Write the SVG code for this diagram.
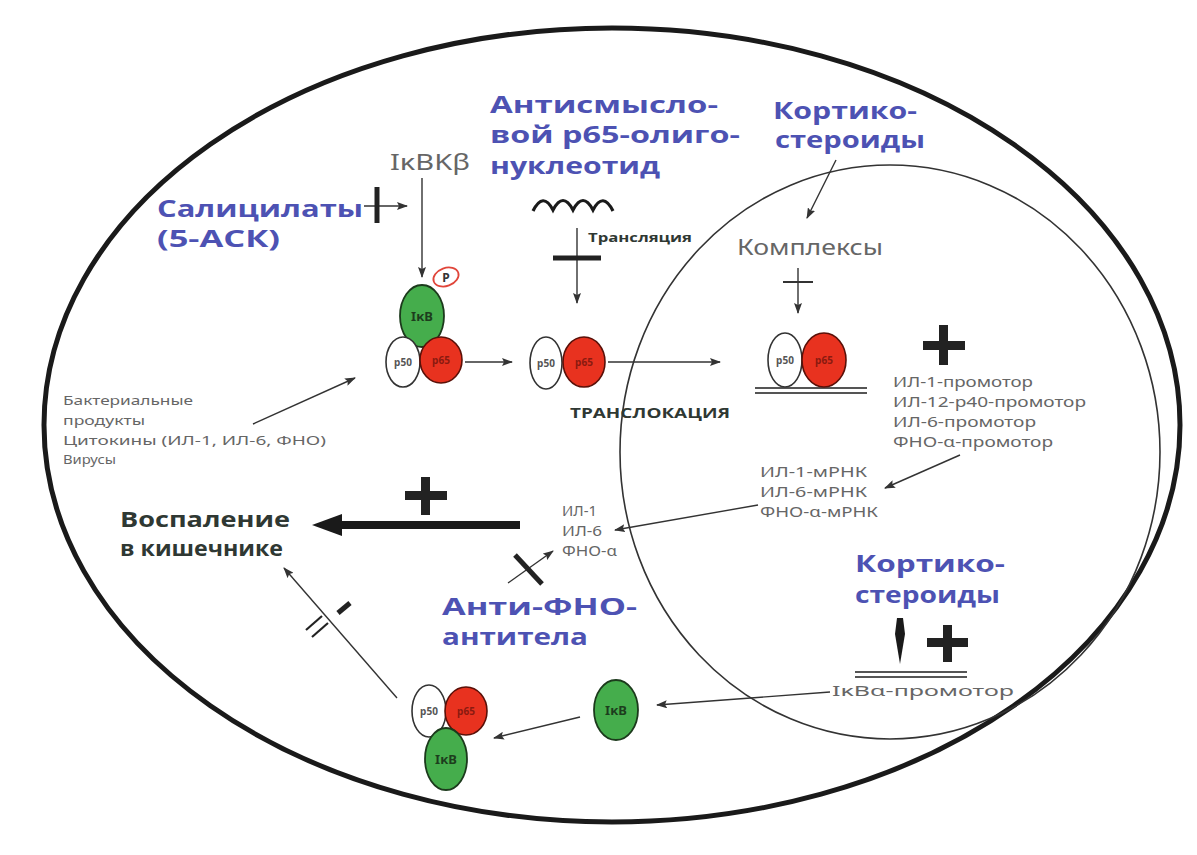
<svg xmlns="http://www.w3.org/2000/svg" width="1197" height="855" viewBox="0 0 1197 855">
  <style>
    .blue { font-family: "Open Sans", "Noto Sans", sans-serif; font-weight: bold; font-size: 23px; fill: #4d52b3; }
    .dark { font-family: "Open Sans", "Noto Sans", sans-serif; font-weight: bold; fill: #2f3833; }
    .gray { font-family: "Noto Sans", "DejaVu Sans", sans-serif; fill: #666; }
    .thin { stroke: #333; stroke-width: 1.4; fill: none; }
    .bar { stroke: #222; stroke-width: 5; stroke-linecap: butt; fill: none; }
    .plus { fill: #222; }
    .p50 { fill: #fff; stroke: #333; stroke-width: 1.6; }
    .p65 { fill: #e8321f; stroke: #5a1008; stroke-width: 1.6; }
    .ikb { fill: #45ad4c; stroke: #1c3a1c; stroke-width: 1.8; }
    .lab50 { font-family: "Noto Sans", sans-serif; font-weight: bold; font-size: 10px; fill: #555; }
    .lab65 { font-family: "Noto Sans", sans-serif; font-weight: bold; font-size: 10px; fill: #8a1a10; }
    .labIkb { font-family: "Noto Sans", sans-serif; font-weight: bold; font-size: 13px; fill: #1d3d1d; }
    .dna { stroke: #555; stroke-width: 2; }
  </style>
  <defs>
    <marker id="arr" markerUnits="userSpaceOnUse" markerWidth="11" markerHeight="8" refX="10" refY="4" orient="auto">
      <path d="M0,0 L11,4 L0,8 L2,4 Z" fill="#333"/>
    </marker>
  </defs>

  <rect width="1197" height="855" fill="#fff"/>

  <!-- cell membrane and nucleus -->
  <g id="cell">
    <ellipse cx="612" cy="425" rx="568" ry="397" fill="none" stroke="#1a1a1a" stroke-width="5"/>
  </g>
  <g id="nucleus">
    <ellipse cx="890" cy="452" rx="270" ry="287" fill="none" stroke="#333" stroke-width="1.6"/>
  </g>

  <!-- connectors -->
  <g id="connectors">
    <!-- IkBKb to IkB -->
    <line class="thin" x1="422" y1="178" x2="422" y2="277" marker-end="url(#arr)"/>
    <!-- salicylates blocking -->
    <line class="thin" x1="364" y1="206" x2="407" y2="206" marker-end="url(#arr)"/>
    <line class="bar" x1="377" y1="187" x2="377" y2="223"/>
    <!-- external stimuli -->
    <line class="thin" x1="253" y1="424" x2="355" y2="378" marker-end="url(#arr)"/>
    <!-- release of p50/p65 -->
    <line class="thin" x1="465" y1="362" x2="512" y2="362" marker-end="url(#arr)"/>
    <!-- translocation -->
    <line class="thin" x1="608" y1="362" x2="720" y2="362" marker-end="url(#arr)"/>
    <!-- antisense oligonucleotide -->
    <path d="M533,211 Q543,191 553,210 Q563,191 573,210 Q583,191 593,210 Q603,191 613,211" fill="none" stroke="#1a1a1a" stroke-width="3.2"/>
    <line class="thin" x1="577" y1="228" x2="577" y2="303" marker-end="url(#arr)"/>
    <line class="bar" x1="553" y1="258" x2="601" y2="258"/>
    <!-- corticosteroids to complexes -->
    <line class="thin" x1="836" y1="160" x2="807" y2="218" marker-end="url(#arr)"/>
    <line class="thin" x1="798" y1="268" x2="798" y2="313" marker-end="url(#arr)"/>
    <line x1="783" y1="282" x2="813" y2="282" stroke="#333" stroke-width="2"/>
    <!-- promoters to mRNA -->
    <line class="thin" x1="960" y1="455" x2="885" y2="488" marker-end="url(#arr)"/>
    <!-- mRNA to cytokines -->
    <line class="thin" x1="758" y1="505" x2="615" y2="530" marker-end="url(#arr)"/>
    <!-- cytokines to inflammation -->
    <line x1="520" y1="525" x2="335" y2="525" stroke="#1a1a1a" stroke-width="8"/>
    <polygon points="312,525 342,514 342,536" fill="#1a1a1a"/>
    <!-- anti-TNF antibodies -->
    <line class="thin" x1="508" y1="583" x2="553" y2="551" marker-end="url(#arr)"/>
    <line class="bar" x1="515" y1="555" x2="542" y2="584"/>
    <!-- corticosteroids to IkBa promoter -->
    <path d="M897,618 L903,618 L905,634 L900,664 L895,634 Z" fill="#1a1a1a"/>
    <!-- IkBa promoter to IkB -->
    <line class="thin" x1="830" y1="692" x2="657" y2="705" marker-end="url(#arr)"/>
    <!-- IkB binds p50/p65 -->
    <line class="thin" x1="580" y1="717" x2="494" y2="738" marker-end="url(#arr)"/>
    <!-- inhibited route to inflammation -->
    <line class="thin" x1="397" y1="698" x2="284" y2="568" marker-end="url(#arr)"/>
    <line x1="306" y1="630" x2="322" y2="616" stroke="#222" stroke-width="2.2"/>
    <line x1="312" y1="637" x2="328" y2="623" stroke="#222" stroke-width="2.2"/>
    <line class="bar" x1="338" y1="613" x2="350" y2="603"/>
  </g>

  <!-- plus signs -->
  <g id="plus-inflammation">
    <rect class="plus" x="405" y="491" width="42" height="9"/>
    <rect class="plus" x="421" y="477" width="9" height="38"/>
  </g>
  <g id="plus-promoters">
    <rect class="plus" x="923" y="341" width="42" height="9"/>
    <rect class="plus" x="939" y="325" width="9" height="40"/>
  </g>
  <g id="plus-ikba">
    <rect class="plus" x="927" y="638" width="41" height="9"/>
    <rect class="plus" x="943" y="625" width="9" height="37"/>
  </g>

  <!-- labels -->
  <g id="ikbkb">
    <text class="gray" x="390" y="170" font-size="22" textLength="80" lengthAdjust="spacingAndGlyphs">IκBKβ</text>
  </g>
  <g id="salicylates">
    <text class="blue" x="157" y="217" textLength="206" lengthAdjust="spacingAndGlyphs">Салицилаты</text>
    <text class="blue" x="157" y="247" textLength="123" lengthAdjust="spacingAndGlyphs">(5-АСК)</text>
  </g>
  <g id="antisense">
    <text class="blue" x="490" y="113" textLength="228" lengthAdjust="spacingAndGlyphs">Антисмысло-</text>
    <text class="blue" x="490" y="143" textLength="250" lengthAdjust="spacingAndGlyphs">вой р65-олиго-</text>
    <text class="blue" x="490" y="174" textLength="170" lengthAdjust="spacingAndGlyphs">нуклеотид</text>
    <text class="dark" x="588" y="242" font-size="13" textLength="104" lengthAdjust="spacingAndGlyphs">Трансляция</text>
  </g>
  <g id="corticosteroids-top">
    <text class="blue" x="773" y="119" textLength="144" lengthAdjust="spacingAndGlyphs">Кортико-</text>
    <text class="blue" x="775" y="148" textLength="150" lengthAdjust="spacingAndGlyphs">стероиды</text>
  </g>
  <g id="complexes">
    <text class="gray" x="737" y="255" font-size="21" textLength="146" lengthAdjust="spacingAndGlyphs" fill="#555">Комплексы</text>
  </g>
  <g id="stimuli">
    <text class="gray" x="63" y="405" font-size="13" textLength="130" lengthAdjust="spacingAndGlyphs">Бактериальные</text>
    <text class="gray" x="63" y="425" font-size="13" textLength="82" lengthAdjust="spacingAndGlyphs">продукты</text>
    <text class="gray" x="63" y="445" font-size="13" textLength="263" lengthAdjust="spacingAndGlyphs">Цитокины (ИЛ-1, ИЛ-6, ФНО)</text>
    <text class="gray" x="63" y="464" font-size="13" textLength="53" lengthAdjust="spacingAndGlyphs">Вирусы</text>
  </g>
  <g id="translocation">
    <text class="dark" x="570" y="418" font-size="14" fill="#444" textLength="160" lengthAdjust="spacingAndGlyphs">ТРАНСЛОКАЦИЯ</text>
  </g>
  <g id="promoters">
    <text class="gray" x="893" y="387" font-size="15" textLength="140" lengthAdjust="spacingAndGlyphs">ИЛ-1-промотор</text>
    <text class="gray" x="893" y="407" font-size="15" textLength="193" lengthAdjust="spacingAndGlyphs">ИЛ-12-р40-промотор</text>
    <text class="gray" x="893" y="427" font-size="15" textLength="143" lengthAdjust="spacingAndGlyphs">ИЛ-6-промотор</text>
    <text class="gray" x="893" y="447" font-size="15" textLength="160" lengthAdjust="spacingAndGlyphs">ФНО-α-промотор</text>
  </g>
  <g id="mrna">
    <text class="gray" x="760" y="477" font-size="14" textLength="107" lengthAdjust="spacingAndGlyphs">ИЛ-1-мРНК</text>
    <text class="gray" x="760" y="497" font-size="14" textLength="107" lengthAdjust="spacingAndGlyphs">ИЛ-6-мРНК</text>
    <text class="gray" x="760" y="517" font-size="14" textLength="118" lengthAdjust="spacingAndGlyphs">ФНО-α-мРНК</text>
  </g>
  <g id="cytokines">
    <text class="gray" x="562" y="516" font-size="14" textLength="35" lengthAdjust="spacingAndGlyphs">ИЛ-1</text>
    <text class="gray" x="562" y="536" font-size="14" textLength="40" lengthAdjust="spacingAndGlyphs">ИЛ-6</text>
    <text class="gray" x="562" y="556" font-size="14" textLength="55" lengthAdjust="spacingAndGlyphs">ФНО-α</text>
  </g>
  <g id="inflammation">
    <text class="dark" x="120" y="527" font-size="21" textLength="170" lengthAdjust="spacingAndGlyphs">Воспаление</text>
    <text class="dark" x="120" y="556" font-size="21" textLength="163" lengthAdjust="spacingAndGlyphs">в кишечнике</text>
  </g>
  <g id="anti-tnf">
    <text class="blue" x="442" y="615" textLength="195" lengthAdjust="spacingAndGlyphs">Анти-ФНО-</text>
    <text class="blue" x="442" y="645" textLength="146" lengthAdjust="spacingAndGlyphs">антитела</text>
  </g>
  <g id="corticosteroids-bottom">
    <text class="blue" x="855" y="572" textLength="150" lengthAdjust="spacingAndGlyphs">Кортико-</text>
    <text class="blue" x="855" y="603" textLength="145" lengthAdjust="spacingAndGlyphs">стероиды</text>
  </g>
  <g id="ikba-promoter">
    <line class="dna" x1="855" y1="672" x2="967" y2="672"/>
    <line class="dna" x1="855" y1="677" x2="967" y2="677"/>
    <text class="gray" x="832" y="696" font-size="14" textLength="182" lengthAdjust="spacingAndGlyphs">IκBα-промотор</text>
  </g>

  <!-- cytoplasmic IkB/p50/p65 complex, phosphorylated -->
  <g id="complex-phospho">
    <ellipse class="ikb" cx="422" cy="316" rx="22" ry="31"/>
    <text class="labIkb" x="422" y="321" text-anchor="middle">IκB</text>
    <ellipse cx="446" cy="277" rx="13" ry="9" transform="rotate(-20 446 277)" fill="#fff" stroke="#e0453a" stroke-width="1.8"/>
    <text x="446" y="282" text-anchor="middle" font-family="Noto Sans, sans-serif" font-weight="bold" font-size="12" fill="#333">P</text>
    <ellipse class="p50" cx="403" cy="362" rx="17" ry="25"/>
    <text class="lab50" x="403" y="366" text-anchor="middle">p50</text>
    <ellipse class="p65" cx="441" cy="360" rx="21" ry="23"/>
    <text class="lab65" x="441" y="364" text-anchor="middle">p65</text>
  </g>

  <!-- free p50/p65 dimer -->
  <g id="dimer-free">
    <ellipse class="p50" cx="546" cy="363" rx="16" ry="26"/>
    <text class="lab50" x="546" y="367" text-anchor="middle">p50</text>
    <ellipse class="p65" cx="584" cy="362" rx="21" ry="25"/>
    <text class="lab65" x="584" y="366" text-anchor="middle">p65</text>
  </g>

  <!-- dimer bound to DNA in the nucleus -->
  <g id="dimer-dna">
    <line class="dna" x1="755" y1="388" x2="867" y2="388"/>
    <line class="dna" x1="755" y1="393" x2="867" y2="393"/>
    <ellipse class="p50" cx="785" cy="360" rx="17" ry="27"/>
    <text class="lab50" x="785" y="364" text-anchor="middle">p50</text>
    <ellipse class="p65" cx="824" cy="360" rx="22" ry="27"/>
    <text class="lab65" x="824" y="364" text-anchor="middle">p65</text>
  </g>

  <!-- newly made IkB -->
  <g id="ikb-free">
    <ellipse class="ikb" cx="616" cy="710" rx="22" ry="30"/>
    <text class="labIkb" x="616" y="715" text-anchor="middle">IκB</text>
  </g>

  <!-- re-formed inactive complex -->
  <g id="complex-inactive">
    <ellipse class="p50" cx="429" cy="711" rx="17" ry="26"/>
    <text class="lab50" x="429" y="715" text-anchor="middle">p50</text>
    <ellipse class="p65" cx="466" cy="711" rx="21" ry="24"/>
    <text class="lab65" x="466" y="715" text-anchor="middle">p65</text>
    <ellipse class="ikb" cx="446" cy="759" rx="21" ry="31"/>
    <text class="labIkb" x="446" y="764" text-anchor="middle">IκB</text>
  </g>
</svg>
